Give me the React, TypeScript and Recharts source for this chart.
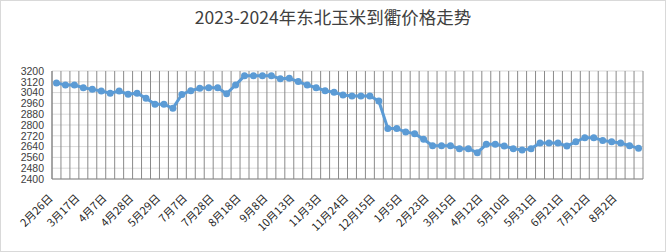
import React from "react";
import { LineChart, Line, XAxis, YAxis, CartesianGrid } from "recharts";

const title = "2023-2024年东北玉米到衢价格走势";

const dates = [
  "2月26日", "3月3日", "3月10日", "3月17日", "3月24日", "3月31日",
  "4月7日", "4月14日", "4月21日", "4月28日", "5月12日", "5月19日",
  "5月29日", "6月9日", "6月23日", "7月7日", "7月14日", "7月21日",
  "7月28日", "8月4日", "8月11日", "8月18日", "8月25日", "9月1日",
  "9月8日", "9月22日", "10月1日", "10月13日", "10月20日", "10月27日",
  "11月3日", "11月10日", "11月17日", "11月24日", "12月1日", "12月8日",
  "12月15日", "12月22日", "12月29日", "1月5日", "1月12日", "1月19日",
  "2月23日", "3月1日", "3月8日", "3月15日", "3月22日", "3月29日",
  "4月12日", "4月19日", "4月26日", "5月10日", "5月17日", "5月24日",
  "5月31日", "6月7日", "6月14日", "6月21日", "6月28日", "7月5日",
  "7月12日", "7月19日", "7月26日", "8月2日", "8月9日", "8月16日",
];

const prices = [
  3112, 3096, 3096, 3076, 3064, 3052, 3036, 3052, 3028, 3036, 2998, 2954,
  2954, 2924, 3026, 3054, 3072, 3076, 3076, 3032, 3096, 3164, 3164, 3164,
  3164, 3142, 3146, 3122, 3096, 3076, 3054, 3042, 3022, 3015, 3015, 3015,
  2978, 2775, 2775, 2748, 2736, 2694, 2647, 2647, 2647, 2625, 2625, 2595,
  2657, 2657, 2644, 2625, 2615, 2625, 2666, 2666, 2666, 2644, 2676, 2706,
  2706, 2686, 2676, 2666, 2647, 2627,
];

const yTicks = [2400, 2480, 2560, 2640, 2720, 2800, 2880, 2960, 3040, 3120, 3200];
const labelEvery = 3;

const W = 666;
const H = 252;
const MARGIN = { top: 71, right: 23, bottom: 43, left: 0 };
const Y_AXIS_W = 52;
const X_AXIS_H = 30;

const data = dates.map((d, i) => ({ x: i + 0.5, date: d, price: prices[i] }));
const xLabelTicks = dates
  .map((_, i) => i)
  .filter((i) => i % labelEvery === 0)
  .map((i) => i + 0.5);

const XTick = (props: any) => {
  const { x, y, payload } = props;
  const idx = Math.round(payload.value - 0.5);
  return (
    <g transform={`translate(${x - 3},${y + 20})`}>
      <text
        x={0}
        y={0}
        textAnchor="end"
        transform="rotate(-45)"
        fontSize={11}
        fontFamily="'Noto Sans CJK SC', sans-serif"
        fill="#262626"
      >
        {dates[idx]}
      </text>
    </g>
  );
};

export default function App() {
  const n = dates.length;
  const plotLeft = MARGIN.left + Y_AXIS_W;
  const plotWidth = W - plotLeft - MARGIN.right;
  const gridX = Array.from({ length: n + 1 }, (_, k) => plotLeft + (plotWidth * k) / n);
  return (
    <div style={{ position: "absolute", left: 0, top: 0, width: W, height: H, background: "#fff" }}>
      <div
        style={{
          position: "absolute",
          left: 0,
          top: 7,
          width: W,
          textAlign: "center",
          fontFamily: "'Noto Sans CJK SC', sans-serif",
          fontSize: 17.5,
          lineHeight: "20px",
          color: "#404040",
        }}
      >
        {title}
      </div>
      <LineChart width={W} height={H} data={data} margin={MARGIN}>
        <CartesianGrid vertical={false} stroke="#d9d9d9" strokeWidth={1} />
        <CartesianGrid horizontal={false} stroke="#8a8a8a" strokeWidth={1} verticalPoints={gridX} />
        <XAxis
          type="number"
          dataKey="x"
          domain={[0, n]}
          ticks={xLabelTicks}
          interval={0}
          height={X_AXIS_H}
          tick={<XTick />}
          tickLine={false}
          tickSize={0}
          tickMargin={0}
          axisLine={{ stroke: "#868686" }}
          allowDecimals
        />
        <YAxis
          type="number"
          domain={[2400, 3200]}
          ticks={yTicks}
          interval={0}
          width={Y_AXIS_W}
          tickLine={false}
          axisLine={{ stroke: "#868686" }}
          tick={{ fontSize: 10.5, fill: "#404040", fontFamily: "'Liberation Sans', Arial, sans-serif" }}
        />
        <Line
          type="linear"
          dataKey="price"
          stroke="#5b9bd5"
          strokeWidth={3}
          dot={{ r: 3.5, fill: "#5b9bd5", stroke: "#5b9bd5", strokeWidth: 0 }}
          activeDot={false}
          isAnimationActive={false}
        />
      </LineChart>
      <div
        style={{
          position: "absolute",
          left: 0,
          top: 0,
          width: W,
          height: H,
          boxSizing: "border-box",
          border: "1px solid #d9d9d9",
          pointerEvents: "none",
        }}
      />
    </div>
  );
}
